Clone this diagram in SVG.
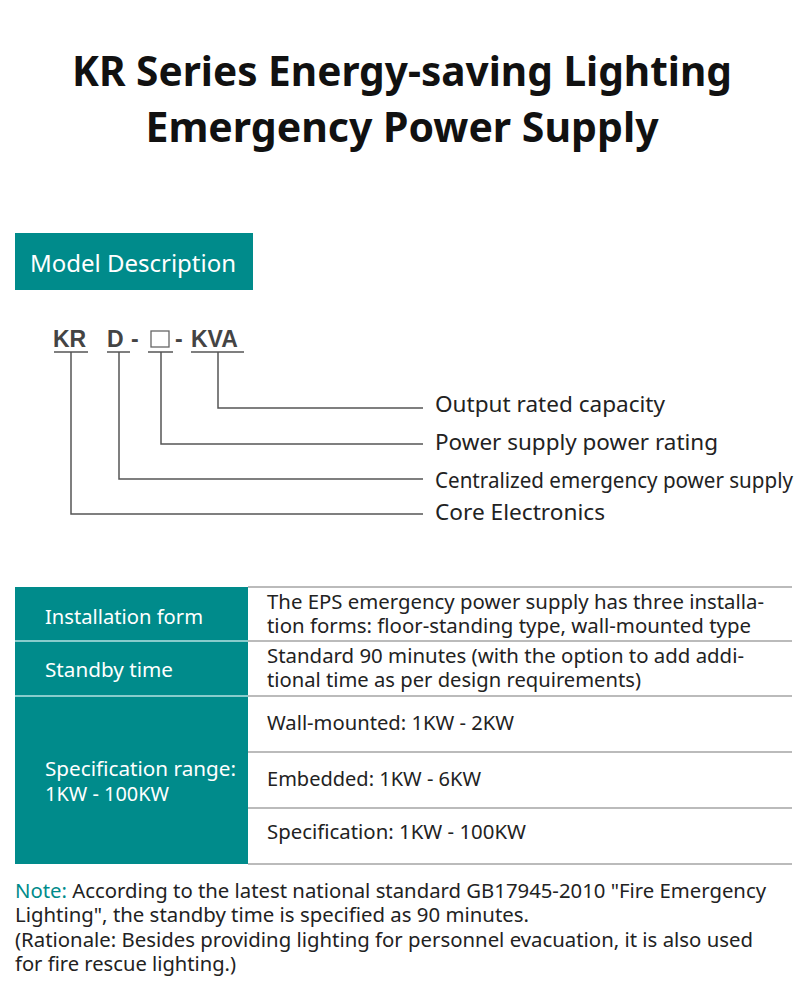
<svg xmlns="http://www.w3.org/2000/svg" width="800" height="997" viewBox="0 0 800 997">
<style>
text{font-family:"Noto Sans","Open Sans",sans-serif;}
.t{font-size:41px;font-weight:bold;fill:#111;text-anchor:middle}
.m{font-size:23px;font-weight:bold;fill:#444;font-family:"Liberation Sans",sans-serif}
.lbl{font-size:21px;fill:#222}
.w{font-size:20px;fill:#fff}
.c{font-size:19.5px;fill:#222}
.n{font-size:20px;fill:#222}
.ln{stroke:#555;stroke-width:1.5;fill:none}
.rl{stroke:#bbb;stroke-width:2}
</style>
<rect width="800" height="997" fill="#fff"/>
<text class="t" x="402" y="86" textLength="660" lengthAdjust="spacingAndGlyphs">KR Series Energy-saving Lighting</text>
<text class="t" x="402" y="142">Emergency Power Supply</text>
<g id="header"><rect x="15" y="233" width="238" height="57" fill="#008b8b"/>
<text x="133" y="272" style="font-size:24px;fill:#fff;text-anchor:middle">Model Description</text></g>
<g id="model">
<text class="m" x="53" y="347">KR</text>
<text class="m" x="107" y="347">D</text>
<text class="m" x="131" y="347">-</text>
<rect x="151" y="331" width="18" height="16" fill="none" stroke="#666" stroke-width="1.3"/>
<text class="m" x="175" y="347">-</text>
<text class="m" x="191" y="347">KVA</text>
<g class="ln"><path d="M54 352H88M107 352H130M148 352H173M191 352H244"/></g>
</g>
<g id="connectors" class="ln">
<path d="M218 352V408H423"/>
<path d="M161 352V444H423"/>
<path d="M119 352V479H423"/>
<path d="M71 352V514H423"/>
</g>
<g id="labels">
<text class="lbl" x="435" y="412" textLength="230" lengthAdjust="spacingAndGlyphs">Output rated capacity</text>
<text class="lbl" x="435" y="450" textLength="283" lengthAdjust="spacingAndGlyphs">Power supply power rating</text>
<text class="lbl" x="435" y="488" textLength="358" lengthAdjust="spacingAndGlyphs">Centralized emergency power supply</text>
<text class="lbl" x="435" y="520" textLength="170" lengthAdjust="spacingAndGlyphs">Core Electronics</text>
</g>
<g id="table">
<rect x="15" y="587" width="233" height="277" fill="#008b8b"/>
<g class="rl"><path d="M248 587H792M15 641H792M15 696H792M248 752H792M248 808H792M248 864H792"/></g>
<path d="M15 641H248M15 696H248" stroke="#8cc" stroke-width="2"/>
<text class="w" x="45" y="624" textLength="158" lengthAdjust="spacingAndGlyphs">Installation form</text>
<text class="w" x="45" y="677" textLength="128" lengthAdjust="spacingAndGlyphs">Standby time</text>
<text class="w" x="45" y="776" textLength="191" lengthAdjust="spacingAndGlyphs">Specification range:</text>
<text class="w" x="45" y="801" textLength="124" lengthAdjust="spacingAndGlyphs">1KW - 100KW</text>
<text class="c" x="267" y="609" textLength="497" lengthAdjust="spacingAndGlyphs">The EPS emergency power supply has three installa-</text>
<text class="c" x="267" y="633" textLength="484" lengthAdjust="spacingAndGlyphs">tion forms: floor-standing type, wall-mounted type</text>
<text class="c" x="267" y="663" textLength="477" lengthAdjust="spacingAndGlyphs">Standard 90 minutes (with the option to add addi-</text>
<text class="c" x="267" y="687" textLength="374" lengthAdjust="spacingAndGlyphs">tional time as per design requirements)</text>
<text class="c" x="267" y="730" textLength="247" lengthAdjust="spacingAndGlyphs">Wall-mounted: 1KW - 2KW</text>
<text class="c" x="267" y="786" textLength="214" lengthAdjust="spacingAndGlyphs">Embedded: 1KW - 6KW</text>
<text class="c" x="267" y="839" textLength="259" lengthAdjust="spacingAndGlyphs">Specification: 1KW - 100KW</text>
</g>
<g id="note">
<text class="n" x="15" y="898" textLength="751" lengthAdjust="spacingAndGlyphs"><tspan fill="#008b8b">Note:</tspan> According to the latest national standard GB17945-2010 "Fire Emergency</text>
<text class="n" x="15" y="922" textLength="514" lengthAdjust="spacingAndGlyphs">Lighting", the standby time is specified as 90 minutes.</text>
<text class="n" x="15" y="947" textLength="738" lengthAdjust="spacingAndGlyphs">(Rationale: Besides providing lighting for personnel evacuation, it is also used</text>
<text class="n" x="15" y="971" textLength="221" lengthAdjust="spacingAndGlyphs">for fire rescue lighting.)</text>
</g>
</svg>
